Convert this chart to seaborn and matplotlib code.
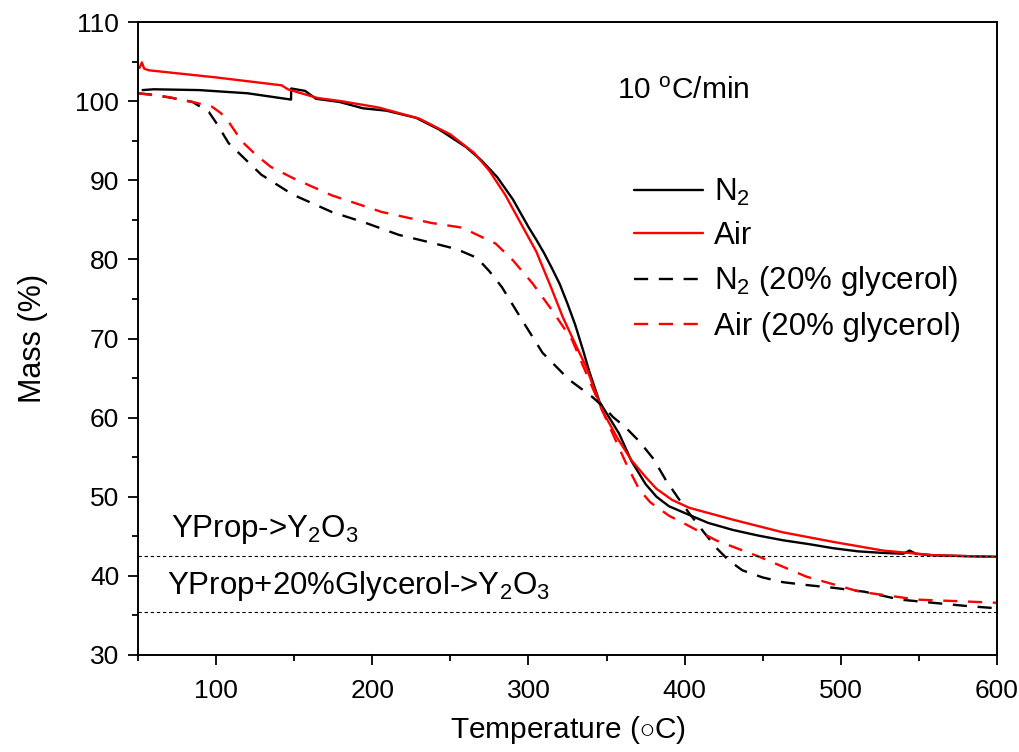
import numpy as np
import pandas as pd
import matplotlib
matplotlib.use("Agg")
import matplotlib.pyplot as plt
import seaborn as sns
from matplotlib.ticker import MultipleLocator

# ---------------- data ----------------
n2_x = [53, 60, 89, 120, 148, 148.1, 154, 157, 164, 179, 194, 209, 228, 243, 260, 270,
        280, 290, 300, 305, 310, 315, 320, 325, 330, 335, 339, 345.5, 358, 366, 375, 382,
        390, 403, 415, 431, 447, 463, 480, 495, 511, 527, 540, 544, 548, 559, 580, 600]
n2_y = [101.4, 101.5, 101.4, 101.0, 100.2, 101.6, 101.4, 101.3, 100.3, 99.9, 99.1, 98.8,
        97.9, 96.4, 94.2, 92.5, 90.4, 87.6, 84.1, 82.5, 80.8, 78.9, 76.9, 74.4, 71.7, 68.5,
        65.8, 62.0, 58.0, 54.5, 51.6, 50.0, 48.8, 47.7, 46.7, 45.8, 45.1, 44.5, 44.0, 43.5,
        43.1, 42.9, 42.8, 43.2, 42.8, 42.6, 42.5, 42.4]

air_x = [51, 52.5, 54, 57, 100, 142, 146, 151, 165, 180, 204, 230, 250, 265, 275, 285,
         295, 305, 314, 322, 330, 337, 347, 357, 366, 375, 382, 392, 403, 431, 463, 495,
         527, 560, 600]
air_y = [104.2, 104.9, 104.1, 103.9, 103.0, 102.0, 101.5, 101.2, 100.4, 100.0, 99.2, 97.8,
         95.8, 93.5, 91.2, 88.2, 84.6, 81.0, 76.7, 72.7, 69.3, 66.4, 61.0, 57.4, 54.6, 52.5,
         51.0, 49.6, 48.6, 47.1, 45.5, 44.3, 43.2, 42.6, 42.4]

n2g_x = [50, 60, 72, 85, 95.5, 101, 108, 119, 129, 149, 174, 196, 217, 238, 254, 267, 275,
         283, 296, 309, 326, 341, 350, 354, 362, 371, 380, 388, 396, 403, 412, 420, 428,
         437, 450, 463, 480, 495, 515, 538, 559, 580, 600]
n2g_y = [101.0, 100.8, 100.4, 99.9, 98.6, 97.0, 94.7, 92.6, 90.7, 88.2, 86.0, 84.6, 83.1,
         82.1, 81.3, 80.2, 78.5, 76.5, 72.3, 68.2, 64.8, 62.6, 61.0, 60.1, 58.8, 57.0, 54.8,
         52.1, 49.8, 47.9, 45.6, 43.6, 42.0, 40.7, 39.8, 39.2, 38.8, 38.5, 38.0, 37.0, 36.6,
         36.2, 35.9]

airg_x = [50, 70, 87, 97.4, 103, 108, 116.6, 125.6, 135, 149, 174, 206, 238, 258, 264, 279,
          290, 302.5, 315, 328, 337, 350, 363, 371, 378, 390, 399, 420, 448, 478, 512, 549,
          575, 600]
airg_y = [101.0, 100.5, 99.8, 99.3, 98.5, 97.4, 94.9, 93.2, 91.7, 90.3, 88.1, 86.0, 84.6,
          84.0, 83.4, 82.0, 79.9, 77.0, 73.6, 69.8, 65.6, 59.7, 54.0, 50.9, 49.3, 47.6, 46.7,
          44.5, 42.4, 39.9, 38.0, 37.0, 36.8, 36.6]

series_labels = ["N$_2$", "Air", "N$_2$ (20% glycerol)", "Air (20% glycerol)"]
ref_levels = [42.5, 35.4]
ref_texts = ["YProp->Y$_2$O$_3$", "YProp+20%Glycerol->Y$_2$O$_3$"]
rate_text = "10 $^{\\mathrm{o}}$C/min"

# ---------------- style ----------------
sns.set_theme(style="ticks")
plt.rcParams["font.family"] = ["Liberation Sans", "DejaVu Sans"]
plt.rcParams["mathtext.fontset"] = "custom"
plt.rcParams["mathtext.rm"] = "Liberation Sans"
plt.rcParams["mathtext.it"] = "Liberation Sans:italic"
plt.rcParams["mathtext.bf"] = "Liberation Sans:bold"
plt.rcParams["text.color"] = "black"
plt.rcParams["axes.labelcolor"] = "black"

fig = plt.figure(figsize=(10.19, 7.52), dpi=100)
ax = fig.add_axes([0.1354, 0.129, 0.8430, 0.8417])

specs = [
    (n2_x, n2_y, "black", "-"),
    (air_x, air_y, "#ff0000", "-"),
    (n2g_x, n2g_y, "black", (0, (6, 4.5))),
    (airg_x, airg_y, "#ff0000", (0, (6, 4.5))),
]
handles = []
for (xs, ys, col, ls), lab in zip(specs, series_labels):
    df = pd.DataFrame({"T": xs, "m": ys})
    sns.lineplot(data=df, x="T", y="m", ax=ax, color=col, sort=False,
                 estimator=None, linewidth=1.7, label=lab)
    line = ax.lines[-1]
    line.set_linestyle(ls)
    handles.append(line)

for lev in ref_levels:
    ax.axhline(lev, color="black", linewidth=0.8, linestyle=(0, (3, 2.5)))

ax.text(71, 44.9, ref_texts[0], fontsize=22.5, ha="left", va="baseline")
ax.text(68.6, 37.7, ref_texts[1], fontsize=22.5, ha="left", va="baseline")
ax.text(357, 100.3, rate_text, fontsize=21.5, ha="left", va="baseline")

ax.set_xlim(50, 600)
ax.set_ylim(30, 110)
ax.xaxis.set_major_locator(MultipleLocator(100))
ax.xaxis.set_minor_locator(MultipleLocator(50))
ax.yaxis.set_major_locator(MultipleLocator(10))
ax.yaxis.set_minor_locator(MultipleLocator(5))

for side in ["left", "right", "top", "bottom"]:
    ax.spines[side].set_visible(True)
    ax.spines[side].set_linewidth(1.4)
    ax.spines[side].set_color("black")

ax.tick_params(axis="both", which="major", direction="out", length=7.5, width=1.3,
               labelsize=19, colors="black")
ax.tick_params(axis="both", which="minor", direction="out", length=4, width=1.3,
               colors="black")
ax.tick_params(axis="x", which="major", pad=10)
ax.tick_params(axis="y", which="major", pad=6)

ax.set_xlabel("Temperature (${\\circ}$C)", fontsize=21.5, labelpad=8)
ax.set_ylabel("Mass (%)", fontsize=22, labelpad=20)

leg = ax.legend(handles=handles, labels=series_labels, loc="upper left",
                bbox_to_anchor=(0.578, 0.755), frameon=False, fontsize=22.5,
                handlelength=2.2, handletextpad=0.33, labelspacing=0.42,
                borderpad=0, borderaxespad=0)

fig.savefig("out.png", dpi=100)
